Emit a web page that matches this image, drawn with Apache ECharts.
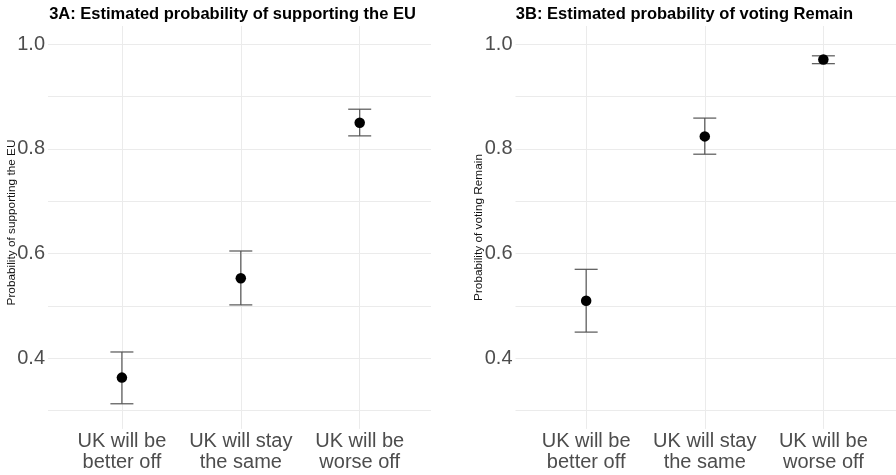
<!DOCTYPE html>
<html>
<head>
<meta charset="utf-8">
<script src="https://cdn.jsdelivr.net/npm/echarts@6/dist/echarts.min.js"></script>
<style>
html,body{margin:0;padding:0;background:#fff;}
#chart{width:896px;height:475px;}
</style>
</head>
<body>
<div id="chart"></div>
<script>
// ---- data ----
const categories = ['UK will be\nbetter off', 'UK will stay\nthe same', 'UK will be\nworse off'];
const euEstimate = [0.363, 0.553, 0.850];
const euLower    = [0.313, 0.502, 0.825];
const euUpper    = [0.412, 0.605, 0.876];
const remainEstimate = [0.510, 0.824, 0.971];
const remainLower    = [0.450, 0.790, 0.963];
const remainUpper    = [0.570, 0.859, 0.978];
const yTickLabels = ['0.4', '0.6', '0.8', '1.0'];
const panelTitles = ['3A: Estimated probability of supporting the EU', '3B: Estimated probability of voting Remain'];
const axisTitles = ['Probability of supporting the EU', 'Probability of voting Remain'];

// ---- styling ----
const FONT = 'Liberation Sans, Arial, sans-serif';
const GRID_COLOR = '#ebebeb';
const TEXT_COLOR = '#4d4d4d';
const BAR_COLOR = '#555555';

const chart = echarts.init(document.getElementById('chart'));

function renderErrorBar(params, api) {
  const x = api.value(0), lo = api.value(1), hi = api.value(2);
  const pLo = api.coord([x, lo]);
  const pHi = api.coord([x, hi]);
  const hw = 11.5;
  const style = { stroke: BAR_COLOR, lineWidth: 1.2 };
  return {
    type: 'group',
    children: [
      { type: 'line', shape: { x1: pHi[0], y1: pHi[1], x2: pLo[0], y2: pLo[1] }, style: style },
      { type: 'line', shape: { x1: pHi[0] - hw, y1: pHi[1], x2: pHi[0] + hw, y2: pHi[1] }, style: style },
      { type: 'line', shape: { x1: pLo[0] - hw, y1: pLo[1], x2: pLo[0] + hw, y2: pLo[1] }, style: style }
    ]
  };
}

function yLabel(v) {
  const k = Math.round(v * 10);
  const s = (k / 10).toFixed(1);
  return yTickLabels.indexOf(s) >= 0 ? s : '';
}
function xLabel(v) {
  if (Math.abs(v - Math.round(v)) > 1e-6) return '';
  const i = Math.round(v) - 1;
  return categories[i] || '';
}

// grids: 0,1 = left panel (background / marks); 2,3 = right panel
const grids = [
  { left: 48, right: 465, top: 44.3, bottom: 64.4 },
  { left: 0.2, right: 417.4, top: 26, bottom: 46.1 },
  { left: 515.5, right: 0, top: 44.3, bottom: 64.4 },
  { left: 467.55, right: 0, top: 26, bottom: 46.1 }
];

function bgX(gi) { return { gridIndex: gi, type: 'value', min: 0, max: 1, show: false }; }
function bgY(gi) {
  return {
    gridIndex: gi, type: 'value', min: 0.3, max: 1.0, interval: 0.1,
    axisLine: { show: false }, axisTick: { show: false },
    axisLabel: { formatter: yLabel, fontSize: 20, color: TEXT_COLOR, fontFamily: FONT, margin: 3 },
    splitLine: { show: true, lineStyle: { color: GRID_COLOR, width: 1 } }
  };
}
function markX(gi, maxV) {
  return {
    gridIndex: gi, type: 'value', min: 0, max: maxV, interval: 1,
    axisLine: { show: false }, axisTick: { show: false },
    axisLabel: { formatter: xLabel, fontSize: 20, lineHeight: 21, color: TEXT_COLOR, fontFamily: FONT, margin: 2 },
    splitLine: { show: true, lineStyle: { color: ['rgba(0,0,0,0)', GRID_COLOR, GRID_COLOR, GRID_COLOR, 'rgba(0,0,0,0)'], width: 1 } }
  };
}
function markY(gi) {
  return { gridIndex: gi, type: 'value', min: 0.265, max: 1.035, show: false, splitLine: { show: false } };
}

function barData(lo, hi) { return categories.map((c, i) => [i + 1, lo[i], hi[i]]); }
function pointData(est) { return categories.map((c, i) => [i + 1, est[i]]); }

const option = {
  backgroundColor: '#ffffff',
  animation: false,
  grid: grids,
  xAxis: [bgX(0), markX(1, 4), bgX(2), markX(3, 3.587)],
  yAxis: [bgY(0), markY(1), bgY(2), markY(3)],
  series: [
    { type: 'custom', xAxisIndex: 1, yAxisIndex: 1, renderItem: renderErrorBar, data: barData(euLower, euUpper), z: 3 },
    { type: 'scatter', xAxisIndex: 1, yAxisIndex: 1, data: pointData(euEstimate), symbolSize: 10.5, itemStyle: { color: '#000', opacity: 1 }, z: 4 },
    { type: 'custom', xAxisIndex: 3, yAxisIndex: 3, renderItem: renderErrorBar, data: barData(remainLower, remainUpper), z: 3 },
    { type: 'scatter', xAxisIndex: 3, yAxisIndex: 3, data: pointData(remainEstimate), symbolSize: 10.5, itemStyle: { color: '#000', opacity: 1 }, z: 4 }
  ],
  graphic: [
    { type: 'text', x: 232.5, y: 14.5, style: { text: panelTitles[0], align: 'center', verticalAlign: 'middle', fontSize: 16.5, fontWeight: 'bold', fontFamily: FONT, fill: '#000' } },
    { type: 'text', x: 684.5, y: 14.5, style: { text: panelTitles[1], align: 'center', verticalAlign: 'middle', fontSize: 16.5, fontWeight: 'bold', fontFamily: FONT, fill: '#000' } },
    { type: 'text', x: 11.5, y: 222.5, rotation: Math.PI / 2, style: { text: axisTitles[0], align: 'center', verticalAlign: 'middle', fontSize: 11.8, fontFamily: FONT, fill: '#111' } },
    { type: 'text', x: 478.5, y: 227.5, rotation: Math.PI / 2, style: { text: axisTitles[1], align: 'center', verticalAlign: 'middle', fontSize: 11.8, fontFamily: FONT, fill: '#111' } }
  ]
};
chart.setOption(option);
</script>
</body>
</html>
